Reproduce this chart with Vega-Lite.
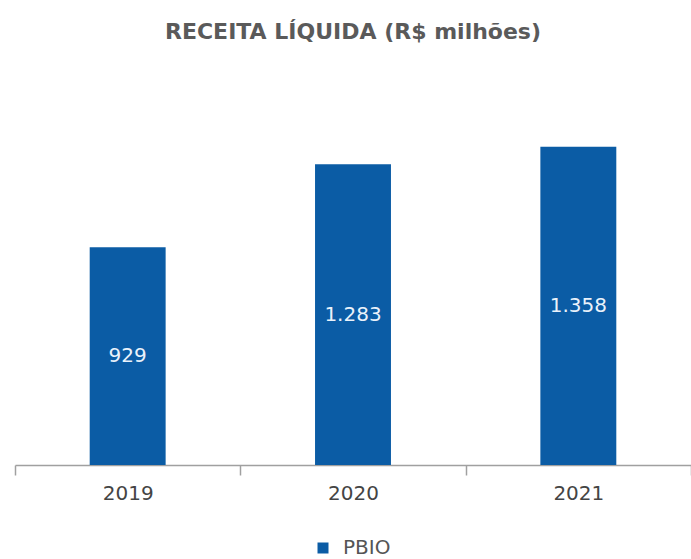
{
  "$schema": "https://vega.github.io/schema/vega-lite/v6.json",
  "autosize": {"type": "none"},
  "width": 676,
  "height": 375,
  "padding": {"left": 15, "top": 90, "right": 0, "bottom": 94},
  "background": "white",
  "title": {
    "text": "RECEITA LÍQUIDA (R$ milhões)",
    "anchor": "middle",
    "font": "DejaVu Sans",
    "fontSize": 22,
    "fontWeight": "bold",
    "color": "#5a5a5a",
    "offset": 46
  },
  "data": {
    "values": [
      {"year": "2019", "value": 929, "label": "929", "series": "PBIO"},
      {"year": "2020", "value": 1283, "label": "1.283", "series": "PBIO"},
      {"year": "2021", "value": 1358, "label": "1.358", "series": "PBIO"}
    ]
  },
  "encoding": {
    "x": {
      "field": "year",
      "type": "nominal",
      "scale": {"paddingInner": 0, "paddingOuter": 0},
      "axis": {
        "title": null,
        "labelAngle": 0,
        "labelFont": "DejaVu Sans",
        "labelFontSize": 20,
        "labelColor": "#444444",
        "labelPadding": 8,
        "tickBand": "extent",
        "tickSize": 10,
        "tickColor": "#a0a0a0",
        "domainColor": "#a0a0a0",
        "domainWidth": 1.5,
        "tickWidth": 1.5
      }
    }
  },
  "layer": [
    {
      "mark": {"type": "bar", "width": {"band": 0.337}},
      "encoding": {
        "y": {
          "field": "value",
          "type": "quantitative",
          "scale": {"domain": [0, 1600]},
          "axis": null
        },
        "color": {
          "field": "series",
          "type": "nominal",
          "scale": {"range": ["#0B5CA5"]},
          "legend": {
            "title": null,
            "orient": "none",
            "legendX": 298,
            "legendY": 448,
            "symbolType": "square",
            "symbolSize": 121,
            "symbolStrokeWidth": 0,
            "labelFont": "DejaVu Sans",
            "labelFontSize": 20,
            "labelColor": "#555555",
            "labelOffset": 10
          }
        }
      }
    },
    {
      "mark": {
        "type": "text",
        "color": "#EAF2FB",
        "font": "DejaVu Sans",
        "fontSize": 20,
        "baseline": "middle",
        "align": "center"
      },
      "encoding": {
        "y": {
          "field": "value",
          "type": "quantitative",
          "scale": {"domain": [0, 3200]},
          "axis": null
        },
        "text": {"field": "label", "type": "nominal"}
      }
    }
  ],
  "resolve": {"scale": {"y": "independent"}},
  "config": {"view": {"stroke": null}}
}
